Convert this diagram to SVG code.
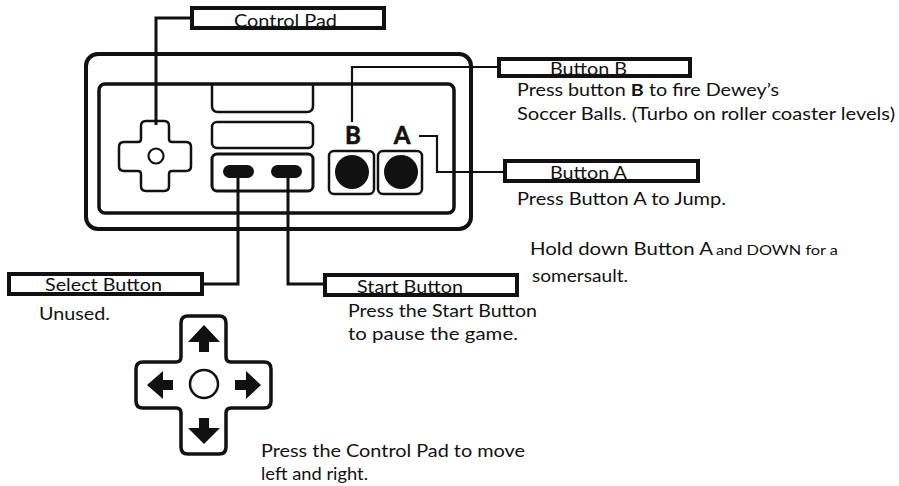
<svg xmlns="http://www.w3.org/2000/svg" width="899" height="486" viewBox="0 0 899 486">
<style>
  .txt { font-family: Lato, "Open Sans", "Liberation Sans", sans-serif; font-size: 17.5px; fill: #111; }
  .lbl { font-family: Lato, "Open Sans", "Liberation Sans", sans-serif; font-size: 17.5px; fill: #111; }
  .small { font-size: 13.5px; }
  .letter { font-family: Lato, "Open Sans", "Liberation Sans", sans-serif; font-size: 24px; font-weight: bold; fill: #111; stroke: #111; stroke-width: 0.6; text-anchor: middle; }
  .box { fill: #fff; stroke: #111; stroke-width: 4; }
  .body { fill: none; stroke: #111; }
  .wire { fill: none; stroke: #111; stroke-width: 3; stroke-linejoin: miter; }
  .wire2 { fill: none; stroke: #111; stroke-width: 2.2; }
  .blk { fill: #111; }
</style>
<rect width="899" height="486" fill="#fff"/>

<g id="controller">
  <rect class="body" x="86" y="54" width="385" height="175" rx="12" stroke-width="4"/>
  <rect class="body" x="99" y="84" width="355" height="129" rx="6" stroke-width="3.5"/>
  <path class="body" stroke-width="2.5" d="M212,84 V106 Q212,112 218,112 H307 Q313,112 313,106 V84"/>
  <rect class="body" x="212" y="122" width="101" height="26" rx="5" stroke-width="2.5"/>
  <rect class="body" x="212" y="154" width="101" height="37" rx="5" stroke-width="3"/>
  <rect class="blk" x="223" y="165" width="31" height="13" rx="6.5"/>
  <rect class="blk" x="271" y="165" width="31" height="13" rx="6.5"/>
  <rect class="body" x="329" y="151" width="45" height="43" rx="5" stroke-width="2.5"/>
  <rect class="body" x="378" y="151" width="44" height="43" rx="5" stroke-width="2.5"/>
  <circle class="blk" cx="352" cy="172" r="17"/>
  <circle class="blk" cx="401" cy="172" r="17"/>
  <text class="letter" x="353" y="144">B</text>
  <text class="letter" x="402" y="144">A</text>
  <path class="body" stroke-width="2.5" d="M146,121 H164 Q169,121 169,126 V139 Q169,142 172,142 H186 Q191,142 191,147 V166 Q191,171 186,171 H172 Q169,171 169,174 V186 Q169,191 164,191 H146 Q141,191 141,186 V174 Q141,171 138,171 H124 Q119,171 119,166 V147 Q119,142 124,142 H138 Q141,142 141,139 V126 Q141,121 146,121 Z"/>
  <circle class="body" cx="156" cy="156" r="7.5" stroke-width="2.2"/>
</g>

<g id="connectors">
  <path class="wire" d="M192,18 H156 V125"/>
  <path class="wire" d="M238,178 V284 H204"/>
  <path class="wire" d="M288,178 V284 H325"/>
  <path class="wire2" d="M352,122 V67 H499"/>
  <path class="wire2" d="M419,136 H437 V172 H505"/>
</g>

<g id="label-control-pad">
  <rect class="box" x="192" y="8" width="192" height="20"/>
  <text class="lbl" x="234" y="27" textLength="103" lengthAdjust="spacingAndGlyphs">Control Pad</text>
</g>

<g id="label-button-b">
  <rect class="box" x="499" y="59" width="191" height="17"/>
  <text class="lbl" x="550" y="74.5" textLength="77" lengthAdjust="spacingAndGlyphs">Button B</text>
  <text class="txt" x="517" y="95.5" textLength="262" lengthAdjust="spacingAndGlyphs">Press button <tspan font-weight="bold">B</tspan> to fire Dewey’s</text>
  <text class="txt" x="517" y="120" textLength="378" lengthAdjust="spacingAndGlyphs">Soccer Balls. (Turbo on roller coaster levels)</text>
</g>

<g id="label-button-a">
  <rect class="box" x="505" y="161" width="193" height="20"/>
  <text class="lbl" x="550" y="179" textLength="77" lengthAdjust="spacingAndGlyphs">Button A</text>
  <text class="txt" x="517" y="205" textLength="209" lengthAdjust="spacingAndGlyphs">Press Button A to Jump.</text>
</g>

<g id="note-somersault">
  <text class="txt" x="530" y="255" textLength="183" lengthAdjust="spacingAndGlyphs">Hold down Button A</text>
  <text class="txt small" x="716" y="255" textLength="122" lengthAdjust="spacingAndGlyphs">and DOWN for a</text>
  <text class="txt" x="532" y="282" textLength="96" lengthAdjust="spacingAndGlyphs">somersault.</text>
</g>

<g id="label-select">
  <rect class="box" x="9" y="274" width="193" height="20"/>
  <text class="lbl" x="45" y="291" textLength="117" lengthAdjust="spacingAndGlyphs">Select Button</text>
  <text class="txt" x="39" y="320" textLength="71" lengthAdjust="spacingAndGlyphs">Unused.</text>
</g>

<g id="label-start">
  <rect class="box" x="325" y="275" width="192" height="20"/>
  <text class="lbl" x="357" y="293" textLength="106" lengthAdjust="spacingAndGlyphs">Start Button</text>
  <text class="txt" x="348" y="317" textLength="189" lengthAdjust="spacingAndGlyphs">Press the Start Button</text>
  <text class="txt" x="348" y="340" textLength="170" lengthAdjust="spacingAndGlyphs">to pause the game.</text>
</g>

<g id="dpad-large">
  <path class="body" stroke-width="3.5" d="M188,316 H219 Q226,316 226,323 V357 Q226,362 231,362 H264 Q271,362 271,369 V401 Q271,408 264,408 H231 Q226,408 226,413 V447 Q226,454 219,454 H188 Q181,454 181,447 V413 Q181,408 176,408 H143 Q136,408 136,401 V369 Q136,362 143,362 H176 Q181,362 181,357 V323 Q181,316 188,316 Z"/>
  <circle class="body" cx="204" cy="384" r="14" stroke-width="2.5"/>
  <polygon class="blk" points="204,325 220,342 209,342 209,352 199,352 199,342 188,342"/>
  <polygon class="blk" points="204,444 220,428 209,428 209,418 199,418 199,428 188,428"/>
  <polygon class="blk" points="147,385 163,371 163,380 173,380 173,390 163,390 163,399"/>
  <polygon class="blk" points="261,385 246,371 246,380 235,380 235,390 246,390 246,399"/>
  <text class="txt" x="261" y="457" textLength="264" lengthAdjust="spacingAndGlyphs">Press the Control Pad to move</text>
  <text class="txt" x="261" y="480" textLength="107" lengthAdjust="spacingAndGlyphs">left and right.</text>
</g>
</svg>
